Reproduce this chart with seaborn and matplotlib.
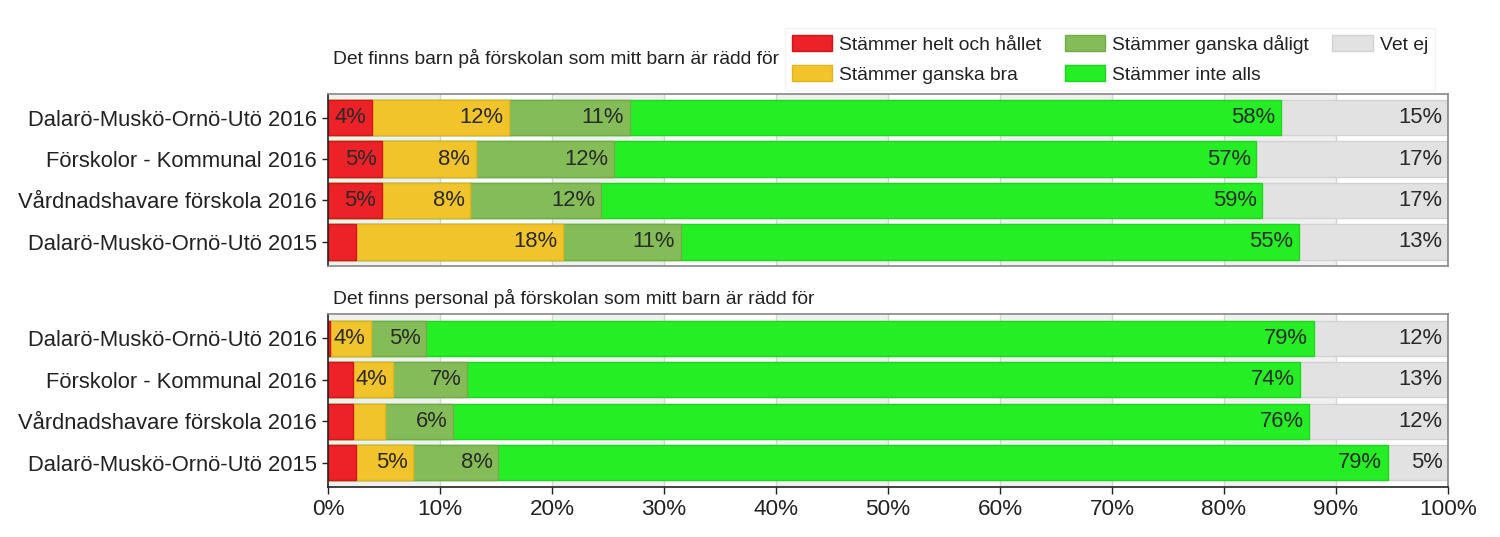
import matplotlib
matplotlib.use("Agg")
import matplotlib.pyplot as plt
import matplotlib.patches as mpatches
from matplotlib.ticker import FuncFormatter
import seaborn as sns
import pandas as pd

# ---------------- data ----------------
categories = ["Dalarö-Muskö-Ornö-Utö 2016", "Förskolor - Kommunal 2016",
              "Vårdnadshavare förskola 2016", "Dalarö-Muskö-Ornö-Utö 2015"]
series_names = ["Stämmer helt och hållet", "Stämmer ganska bra",
                "Stämmer ganska dåligt", "Stämmer inte alls", "Vet ej"]

title1 = "Det finns barn på förskolan som mitt barn är rädd för"
p1_helt = [3.95, 4.85, 4.8, 2.5]
p1_bra = [12.2, 8.35, 7.9, 18.45]
p1_daligt = [10.8, 12.3, 11.7, 10.55]
p1_inte = [58.1, 57.4, 59.0, 55.2]
p1_vetej = [14.95, 17.1, 16.6, 13.3]

title2 = "Det finns personal på förskolan som mitt barn är rädd för"
p2_helt = [0.2, 2.2, 2.2, 2.5]
p2_bra = [3.6, 3.6, 2.9, 5.1]
p2_daligt = [4.95, 6.6, 6.1, 7.6]
p2_inte = [79.25, 74.4, 76.4, 79.4]
p2_vetej = [12.0, 13.2, 12.4, 5.4]

xticks = [0, 10, 20, 30, 40, 50, 60, 70, 80, 90, 100]

# ---------------- style ----------------
colors = ["#ec2228", "#f2c42c", "#84bd58", "#25ee25", "#e2e2e2"]
edges = ["#d41418", "#e6b418", "#72ac48", "#1cd81c", "#d2d2d2"]

sns.set_style("white")
plt.rcParams["font.family"] = ["Liberation Sans", "DejaVu Sans"]

W, H = 1500, 537
fig = plt.figure(figsize=(W / 100, H / 100), dpi=100)

left = 328 / W
width = (1448 - 328) / W
ax1 = fig.add_axes([left, 1 - 266 / H, width, 172.5 / H])
ax2 = fig.add_axes([left, 1 - 486.7 / H, width, 172.5 / H])

FS = 15.8


def draw_panel(ax, vals, show_x):
    df = pd.DataFrame({"cat": categories})
    cum = []
    running = [0.0] * len(categories)
    for v in vals:
        running = [r + x for r, x in zip(running, v)]
        cum.append(list(running))
    # background bands and grid
    for s in range(0, 100, 20):
        ax.axvspan(s, s + 10, color="#f0f0f0", zorder=0, lw=0)
    for t in xticks[1:-1]:
        ax.axvline(t, color="#d4d4d4", lw=1, zorder=0.5)
    # stacked bars, drawn from the total down
    for i in range(len(vals) - 1, -1, -1):
        df["v"] = cum[i]
        sns.barplot(data=df, x="v", y="cat", orient="h", color=colors[i],
                    saturation=1, width=0.85, edgecolor=edges[i],
                    linewidth=1, ax=ax, zorder=2)
    # value labels
    for i, v in enumerate(vals):
        for j, x in enumerate(v):
            if x >= 3.5:
                ax.text(cum[i][j] - 0.5, j, f"{round(x)}%", ha="right",
                        va="center", fontsize=FS, color="#2a2a2a", zorder=5)
    ax.set_xlim(0, 100)
    ax.set_ylim(3.58, -0.58)
    ax.set_xlabel("")
    ax.set_ylabel("")
    ax.set_xticks(xticks)
    ax.xaxis.set_major_formatter(FuncFormatter(lambda x, p: f"{int(x)}%"))
    ax.tick_params(axis="y", left=True, length=4, width=1, color="#222222",
                   labelsize=FS, labelcolor="#222222", pad=4)
    if show_x:
        ax.tick_params(axis="x", bottom=True, length=5, width=1,
                       color="#222222", labelsize=16.2, labelcolor="#222222",
                       pad=4)
    else:
        ax.tick_params(axis="x", bottom=False, labelbottom=False)
    for sp in ["top", "right"]:
        ax.spines[sp].set_color("#888888")
        ax.spines[sp].set_linewidth(1.2)
    ax.spines["left"].set_color("#222222")
    ax.spines["left"].set_linewidth(1.2)
    ax.spines["bottom"].set_color("#222222" if show_x else "#888888")
    ax.spines["bottom"].set_linewidth(1.2)
    for sp in ax.spines.values():
        sp.set_zorder(6)


draw_panel(ax1, [p1_helt, p1_bra, p1_daligt, p1_inte, p1_vetej], False)
draw_panel(ax2, [p2_helt, p2_bra, p2_daligt, p2_inte, p2_vetej], True)

fig.text(333 / W, 1 - 58 / H, title1, fontsize=13.9, color="#222222",
         va="center", ha="left")
fig.text(333 / W, 1 - 298 / H, title2, fontsize=13.9, color="#222222",
         va="center", ha="left")

handles = [mpatches.Patch(facecolor=c, edgecolor=e, lw=1)
           for c, e in zip(colors, edges)]
fig.legend(handles, series_names, ncol=3, loc="upper left",
           bbox_to_anchor=(785 / W, 1 - 28 / H), fontsize=13.9,
           frameon=True, facecolor="white", edgecolor="#f2f2f2",
           fancybox=False, borderpad=0.35, borderaxespad=0,
           handlelength=2.1, handleheight=0.85, handletextpad=0.36,
           labelspacing=0.6, columnspacing=1.2, labelcolor="#222222")

fig.savefig("out.png", dpi=100)
